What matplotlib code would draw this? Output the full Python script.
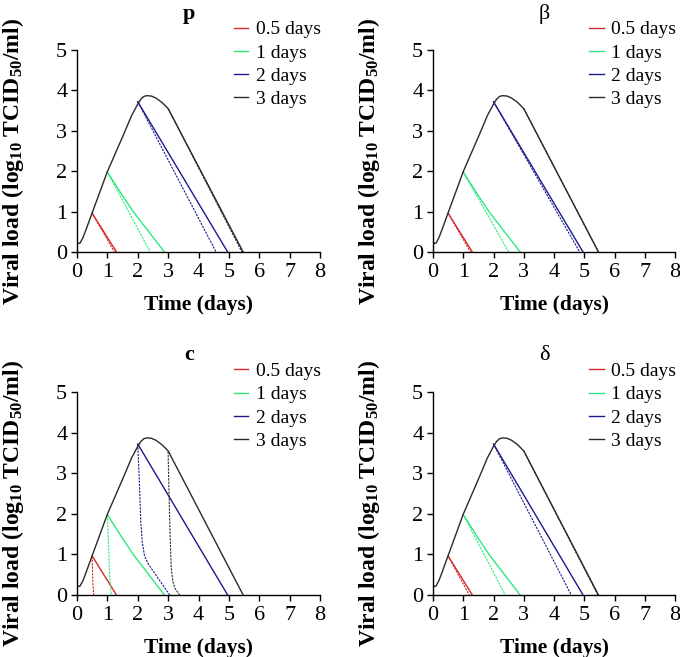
import matplotlib
matplotlib.use("Agg")
import matplotlib.pyplot as plt

plt.rcParams['font.family'] = ['Liberation Serif', 'DejaVu Serif']
plt.rcParams['mathtext.fontset'] = 'custom'
plt.rcParams['mathtext.rm'] = 'Liberation Serif:bold'
plt.rcParams['mathtext.it'] = 'Liberation Serif:bold'
plt.rcParams['mathtext.bf'] = 'Liberation Serif:bold'

# untreated course (solid black) and treatment start curves (solid)
base_t = [0.0, 0.05, 0.1, 0.2, 0.3, 0.5, 1.0, 1.5, 1.8, 2.0, 2.1, 2.2, 2.3,
          2.45, 2.6, 2.8, 3.0, 5.47]
base_v = [0.25, 0.21, 0.22, 0.36, 0.56, 0.97, 1.99, 2.85, 3.38, 3.66, 3.78,
          3.85, 3.87, 3.86, 3.81, 3.70, 3.55, 0.0]
red_t = [0.5, 1.30]
red_v = [0.96, 0.0]
green_t = [1.0, 1.45, 1.85, 2.88]
green_v = [1.98, 1.45, 1.0, 0.0]
blue_t = [2.0, 4.96]
blue_v = [3.72, 0.0]

# dashed curves, one set per parameter
p_red_t, p_red_v = [0.5, 1.23], [0.96, 0.0]
p_green_t, p_green_v = [1.0, 2.41], [1.98, 0.0]
p_blue_t, p_blue_v = [2.0, 4.58], [3.72, 0.0]
p_black_t, p_black_v = [3.0, 5.43], [3.55, 0.0]

b_red_t, b_red_v = [0.5, 1.24], [0.96, 0.0]
b_green_t, b_green_v = [1.0, 2.50], [1.98, 0.0]
b_blue_t, b_blue_v = [2.0, 4.85], [3.72, 0.0]
b_black_t, b_black_v = [3.0, 5.47], [3.55, 0.0]

c_red_t, c_red_v = [0.5, 0.52, 0.55], [0.95, 0.3, 0.0]
c_green_t, c_green_v = [1.0, 1.05, 1.08, 1.13], [1.97, 1.0, 0.37, 0.0]
c_blue_t = [2.0, 2.05, 2.1, 2.15, 2.22, 2.35, 3.05]
c_blue_v = [3.72, 2.85, 1.8, 1.3, 0.97, 0.76, 0.0]
c_black_t = [3.0, 3.02, 3.06, 3.1, 3.15, 3.22, 3.38]
c_black_v = [3.53, 2.8, 1.6, 0.7, 0.35, 0.17, 0.0]

d_red_t, d_red_v = [0.5, 1.20], [0.96, 0.0]
d_green_t, d_green_v = [1.0, 2.39], [1.98, 0.0]
d_blue_t, d_blue_v = [2.0, 4.57], [3.72, 0.0]
d_black_t, d_black_v = [3.0, 5.45], [3.55, 0.0]

labels = ['0.5 days', '1 days', '2 days', '3 days']
titles = ['p', 'β', 'c', 'δ']
title_bold = [True, False, True, False]
colors = ['#d8282c', '#2ee87c', '#1c1a8c', '#2a2a2a']

dashed = [
    [(p_red_t, p_red_v), (p_green_t, p_green_v), (p_blue_t, p_blue_v), (p_black_t, p_black_v)],
    [(b_red_t, b_red_v), (b_green_t, b_green_v), (b_blue_t, b_blue_v), (b_black_t, b_black_v)],
    [(c_red_t, c_red_v), (c_green_t, c_green_v), (c_blue_t, c_blue_v), (c_black_t, c_black_v)],
    [(d_red_t, d_red_v), (d_green_t, d_green_v), (d_blue_t, d_blue_v), (d_black_t, d_black_v)],
]
solid = [(red_t, red_v), (green_t, green_v), (blue_t, blue_v), (base_t, base_v)]

fig = plt.figure(figsize=(6.8, 6.57), dpi=100)
W, H = 680.0, 657.0
boxes = [(77, 50, 320, 252), (433, 50, 675, 252), (77, 392, 320, 595), (433, 392, 675, 595)]

for i, (x0, y0, x1, y1) in enumerate(boxes):
    ax = fig.add_axes([x0 / W, 1 - y1 / H, (x1 - x0) / W, (y1 - y0) / H])
    handles = []
    for k in range(4):
        st, sv = solid[k]
        h, = ax.plot(st, sv, color=colors[k], lw=1.0, label=labels[k])
        handles.append(h)
        dt, dv = dashed[i][k]
        ax.plot(dt, dv, color=colors[k], lw=0.8, ls=(0, (2.0, 1.0)))
    ax.set_xlim(0, 8)
    ax.set_ylim(0, 5)
    ax.set_xticks(range(0, 9))
    ax.set_yticks(range(0, 6))
    for s in ['top', 'right']:
        ax.spines[s].set_visible(False)
    for s in ['left', 'bottom']:
        ax.spines[s].set_linewidth(1.0)
        ax.spines[s].set_color('black')
    ax.tick_params(axis='x', direction='out', length=4, width=1.0, labelsize=16, pad=4)
    ax.tick_params(axis='y', direction='out', length=4, width=1.0, labelsize=16, pad=3)
    ax.set_xlabel('Time (days)', fontsize=15.5, fontweight='bold', labelpad=9)
    ax.set_ylabel(r'Viral load (log$_{10}$ TCID$_{50}$/ml)', fontsize=17,
                  fontweight='bold', va='center')
    ax.yaxis.set_label_coords(-0.265, 0.45)
    ax.text(0.46, 1.18, titles[i], transform=ax.transAxes, ha='center',
            va='center', fontsize=16,
            fontweight='bold' if title_bold[i] else 'normal')
    ax.legend(handles=handles, loc='upper left', bbox_to_anchor=(0.645, 1.145),
              frameon=False, fontsize=14, handlelength=0.75, handletextpad=0.4,
              labelspacing=0.29, borderpad=0, borderaxespad=0)

fig.savefig('out.png', dpi=100)
